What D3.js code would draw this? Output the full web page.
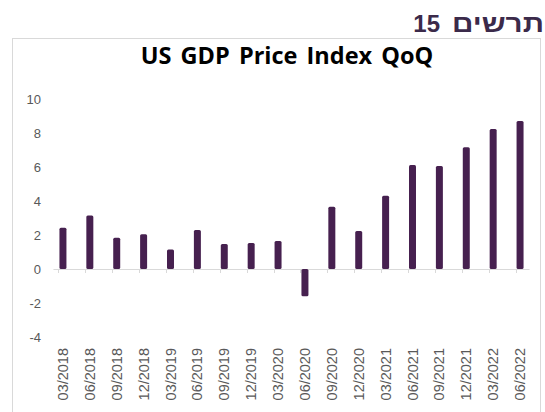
<!DOCTYPE html>
<html>
<head>
<meta charset="utf-8">
<script src="https://cdn.jsdelivr.net/npm/d3@7"></script>
<style>
  body { margin: 0; background: #fff; }
</style>
</head>
<body>
<script>
var categories = ["03/2018", "06/2018", "09/2018", "12/2018", "03/2019", "06/2019",
                  "09/2019", "12/2019", "03/2020", "06/2020", "09/2020", "12/2020",
                  "03/2021", "06/2021", "09/2021", "12/2021", "03/2022", "06/2022"];
var values = [2.43, 3.14, 1.84, 2.04, 1.14, 2.29, 1.47, 1.53, 1.65, -1.6,
              3.66, 2.24, 4.31, 6.12, 6.06, 7.16, 8.24, 8.71];
var yTicks = [-4, -2, 0, 2, 4, 6, 8, 10];

var W = 545, H = 412;

var svg = d3.select("body").append("svg")
    .attr("width", W)
    .attr("height", H);

// frame
svg.append("rect")
    .attr("x", 12.5).attr("y", 38.5)
    .attr("width", 528).attr("height", 400)
    .attr("fill", "none")
    .attr("stroke", "#d9d9d9");

// heading outside the frame: "תרשים 15" (word on the right, number on the left)
svg.append("text")
    .attr("x", 544).attr("y", 32)
    .attr("text-anchor", "end")
    .attr("textLength", 92)
    .attr("lengthAdjust", "spacingAndGlyphs")
    .style("font-family", "Liberation Sans, Arial, sans-serif")
    .style("font-weight", "bold")
    .style("font-size", "24px")
    .attr("fill", "#3b2a4a")
    .text("תרשים");

svg.append("text")
    .attr("x", 440).attr("y", 32)
    .attr("text-anchor", "end")
    .style("font-family", "Liberation Sans, Arial, sans-serif")
    .style("font-weight", "bold")
    .style("font-size", "24px")
    .attr("fill", "#3b2a4a")
    .text("15");

svg.append("text")
    .attr("x", 287).attr("y", 64)
    .attr("text-anchor", "middle")
    .style("font-family", "Open Sans, sans-serif")
    .style("font-weight", "bold")
    .style("font-size", "23.5px")
    .style("word-spacing", "3px")
    .attr("fill", "#000")
    .text("US GDP Price Index QoQ");

var x = d3.scaleBand()
    .domain(categories)
    .range([49.5, 533.5])
    .paddingInner(0.74)
    .paddingOuter(0.37);

var y = d3.scaleLinear()
    .domain([-4, 10])
    .range([337, 99]);

// y tick labels
svg.append("g")
  .selectAll("text")
  .data(yTicks)
  .join("text")
    .attr("x", 41)
    .attr("y", function(d) { return y(d); })
    .attr("dy", "0.35em")
    .attr("text-anchor", "end")
    .style("font-family", "Liberation Sans, Arial, sans-serif")
    .style("font-size", "13px")
    .attr("fill", "#595959")
    .text(function(d) { return d; });

// zero line
var x0 = x(categories[0]) - 6, x1 = x(categories[categories.length - 1]) + x.bandwidth() + 6;
svg.append("line")
    .attr("x1", x0).attr("x2", x1)
    .attr("y1", y(0) + 0.5).attr("y2", y(0) + 0.5)
    .attr("stroke", "#d9d9d9");

// small ticks
svg.append("g")
  .selectAll("line")
  .data(categories)
  .join("line")
    .attr("x1", function(d) { return Math.round(x(d)) - 0.5; })
    .attr("x2", function(d) { return Math.round(x(d)) - 0.5; })
    .attr("y1", y(0)).attr("y2", y(0) + 4)
    .attr("stroke", "#d9d9d9");

// bars
svg.append("g")
  .selectAll("rect")
  .data(values)
  .join("rect")
    .attr("x", function(d, i) { return x(categories[i]); })
    .attr("width", x.bandwidth())
    .attr("y", function(d) { return y(Math.max(0, d)); })
    .attr("height", function(d) { return Math.abs(y(d) - y(0)); })
    .attr("rx", 1.5)
    .attr("fill", "#46204f");

// x labels, rotated
svg.append("g")
  .selectAll("text")
  .data(categories)
  .join("text")
    .attr("transform", function(d) {
      return "translate(" + (x(d) + x.bandwidth() / 2) + ",348) rotate(-90)";
    })
    .attr("dy", "0.35em")
    .attr("text-anchor", "end")
    .style("font-family", "Liberation Sans, Arial, sans-serif")
    .style("font-size", "14.5px")
    .attr("fill", "#595959")
    .text(function(d) { return d; });
</script>
</body>
</html>
